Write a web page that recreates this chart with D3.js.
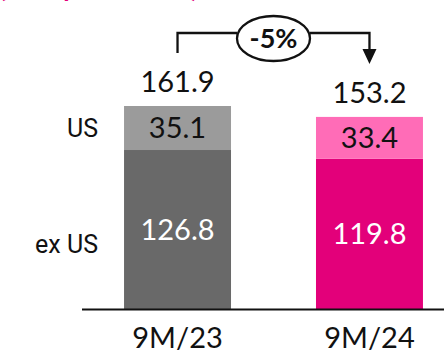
<!DOCTYPE html>
<html><head><meta charset="utf-8">
<script src="https://cdn.jsdelivr.net/npm/d3@7"></script>
<style>html,body{margin:0;padding:0;background:#fff;}svg{display:block;}</style>
</head><body>
<script>
const categories = ["9M/23", "9M/24"];
const usValues = [35.1, 33.4];
const exUsValues = [126.8, 119.8];
const totals = [161.9, 153.2];
const changeLabel = "-5%";
const rowLabels = ["US", "ex US"];
const titleText = "(Group sales €bn)";

const W = 444, H = 354;
const svg = d3.select("body").append("svg").attr("width", W).attr("height", H);
const baseY = 309, topY = 106;
const x = d3.scaleBand().domain(categories).range([82, 465]).paddingInner(0.4427).paddingOuter(0.219);
const y = d3.scaleLinear().domain([0, d3.max(totals)]).range([baseY, topY]);
const colors = {
  "9M/23": {ex: "#696969", us: "#9b9b9b"},
  "9M/24": {ex: "#e3007a", us: "#ff6cb7"}
};
const numFont = "Lato, 'Open Sans', sans-serif";

// cut-off title (only its lower edge is visible in the reference)
svg.append("text").attr("x", -1).attr("y", -3).attr("font-family", numFont).attr("font-weight", 700)
  .attr("font-size", 26).attr("fill", "#e3007a").text(titleText);

const g = svg.append("g");
categories.forEach((c, i) => {
  const bx = x(c), bw = x.bandwidth();
  g.append("rect").attr("x", bx).attr("width", bw).attr("y", y(exUsValues[i])).attr("height", baseY - y(exUsValues[i])).attr("fill", colors[c].ex);
  g.append("rect").attr("x", bx).attr("width", bw).attr("y", y(totals[i])).attr("height", y(exUsValues[i]) - y(totals[i])).attr("fill", colors[c].us);
  const cx = bx + bw / 2;
  g.append("text").attr("x", cx).attr("y", (y(exUsValues[i]) + baseY) / 2).attr("dy", "0.36em")
    .attr("text-anchor", "middle").attr("font-family", numFont).attr("font-size", 29).attr("fill", "#fff").text(exUsValues[i].toFixed(1));
  g.append("text").attr("x", cx).attr("y", (y(totals[i]) + y(exUsValues[i])) / 2).attr("dy", "0.36em")
    .attr("text-anchor", "middle").attr("font-family", numFont).attr("font-size", 29).attr("fill", "#111").text(usValues[i].toFixed(1));
  g.append("text").attr("x", cx).attr("y", y(totals[i]) - 14)
    .attr("text-anchor", "middle").attr("font-family", numFont).attr("font-size", 29).attr("fill", "#111").text(totals[i].toFixed(1));
});

// row labels
svg.append("text").attr("x", 98).attr("y", (y(totals[0]) + y(exUsValues[0])) / 2).attr("dy", "0.36em")
  .attr("text-anchor", "end").attr("font-family", "Roboto, sans-serif").attr("font-size", 25).attr("fill", "#111").text(rowLabels[0]);
svg.append("text").attr("x", 98).attr("y", 244).attr("dy", "0.36em")
  .attr("text-anchor", "end").attr("font-family", "Roboto, sans-serif").attr("font-size", 25).attr("fill", "#111").text(rowLabels[1]);

// axis
const axis = svg.append("g").attr("transform", `translate(0,${baseY})`)
  .call(d3.axisBottom(x).tickSize(0).tickPadding(18));
axis.select(".domain").remove();
svg.append("line").attr("x1", 82).attr("x2", 444).attr("y1", baseY + 0.5).attr("y2", baseY + 0.5).attr("stroke", "#111").attr("stroke-width", 2);
axis.selectAll("text").attr("font-family", numFont).attr("font-size", 29).attr("fill", "#111");

// bracket
const x1 = x(categories[0]) + x.bandwidth() / 2, x2 = x(categories[1]) + x.bandwidth() / 2;
const ex = (x1 + x2) / 2 - 0, ey = 38.5, rx = 36.5, ry = 22.5;
const by = 33;
const br = svg.append("g").attr("stroke", "#111").attr("stroke-width", 2.3).attr("fill", "none");
br.append("path").attr("d", `M${x1},53V${by}H${ex - rx}`);
br.append("path").attr("d", `M${ex + rx},${by}H${x2}V50`);
br.append("ellipse").attr("cx", ex).attr("cy", ey).attr("rx", rx).attr("ry", ry).attr("fill", "#fff");
svg.append("path").attr("d", `M${x2 - 7},49L${x2 + 7},49L${x2},64Z`).attr("fill", "#111");
svg.append("text").attr("x", ex).attr("y", ey).attr("dy", "0.36em").attr("text-anchor", "middle")
  .attr("font-family", numFont).attr("font-weight", 700).attr("font-size", 27).attr("fill", "#111").text(changeLabel);
</script>
</body></html>
